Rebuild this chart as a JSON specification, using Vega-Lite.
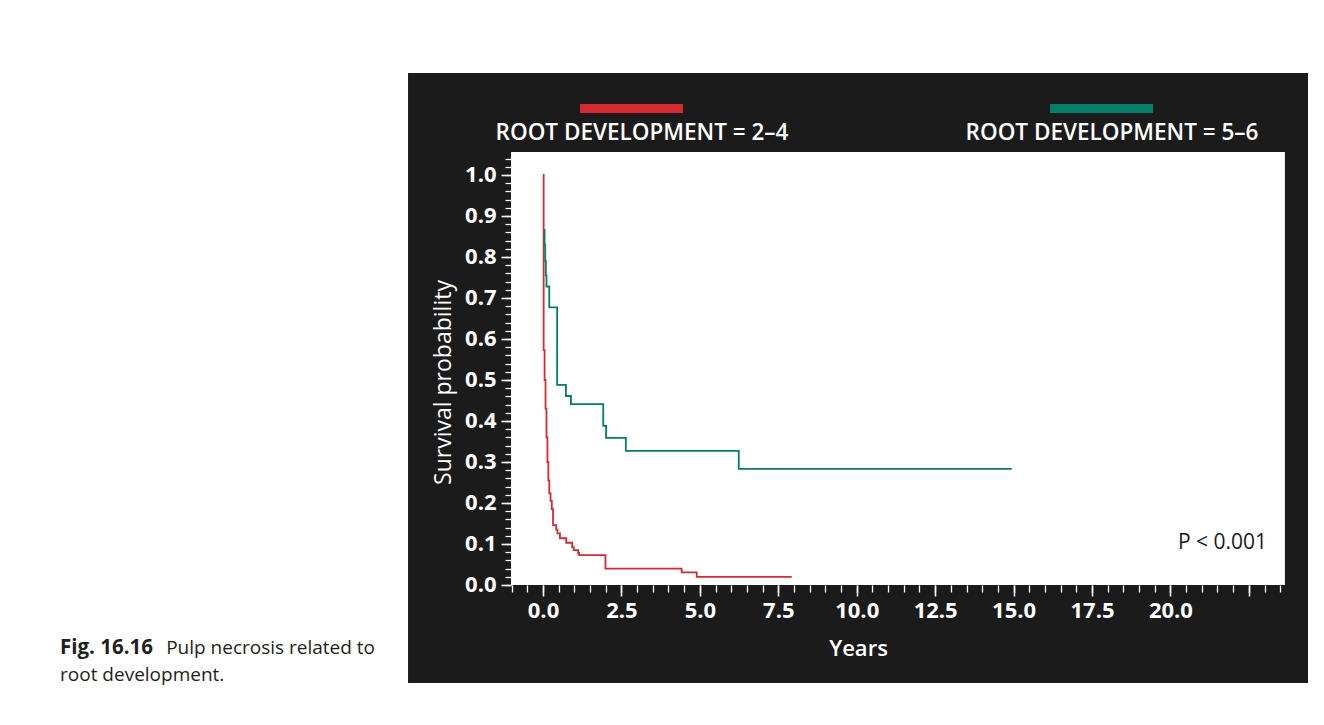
{
  "$schema": "https://vega.github.io/schema/vega-lite/v6.json",
  "width": 1324,
  "height": 725,
  "autosize": {"type": "none"},
  "padding": 0,
  "background": "white",
  "config": {"view": {"stroke": null}},
  "datasets": {
    "km": [
      {"group": "ROOT DEVELOPMENT = 2–4", "years": 0, "survival": 1.0},
      {"group": "ROOT DEVELOPMENT = 2–4", "years": 0.02, "survival": 0.573},
      {"group": "ROOT DEVELOPMENT = 2–4", "years": 0.05, "survival": 0.5},
      {"group": "ROOT DEVELOPMENT = 2–4", "years": 0.08, "survival": 0.43},
      {"group": "ROOT DEVELOPMENT = 2–4", "years": 0.11, "survival": 0.36},
      {"group": "ROOT DEVELOPMENT = 2–4", "years": 0.14, "survival": 0.3},
      {"group": "ROOT DEVELOPMENT = 2–4", "years": 0.17, "survival": 0.255},
      {"group": "ROOT DEVELOPMENT = 2–4", "years": 0.2, "survival": 0.224},
      {"group": "ROOT DEVELOPMENT = 2–4", "years": 0.24, "survival": 0.205},
      {"group": "ROOT DEVELOPMENT = 2–4", "years": 0.28, "survival": 0.185},
      {"group": "ROOT DEVELOPMENT = 2–4", "years": 0.32, "survival": 0.146},
      {"group": "ROOT DEVELOPMENT = 2–4", "years": 0.42, "survival": 0.135},
      {"group": "ROOT DEVELOPMENT = 2–4", "years": 0.46, "survival": 0.126},
      {"group": "ROOT DEVELOPMENT = 2–4", "years": 0.54, "survival": 0.114},
      {"group": "ROOT DEVELOPMENT = 2–4", "years": 0.74, "survival": 0.103},
      {"group": "ROOT DEVELOPMENT = 2–4", "years": 0.93, "survival": 0.092},
      {"group": "ROOT DEVELOPMENT = 2–4", "years": 0.98, "survival": 0.085},
      {"group": "ROOT DEVELOPMENT = 2–4", "years": 1.12, "survival": 0.078},
      {"group": "ROOT DEVELOPMENT = 2–4", "years": 1.15, "survival": 0.073},
      {"group": "ROOT DEVELOPMENT = 2–4", "years": 1.99, "survival": 0.04},
      {"group": "ROOT DEVELOPMENT = 2–4", "years": 4.42, "survival": 0.031},
      {"group": "ROOT DEVELOPMENT = 2–4", "years": 4.9, "survival": 0.02},
      {"group": "ROOT DEVELOPMENT = 2–4", "years": 7.93, "survival": 0.02},
      {"group": "ROOT DEVELOPMENT = 5–6", "years": 0.03, "survival": 0.866},
      {"group": "ROOT DEVELOPMENT = 5–6", "years": 0.05, "survival": 0.83},
      {"group": "ROOT DEVELOPMENT = 5–6", "years": 0.07, "survival": 0.79},
      {"group": "ROOT DEVELOPMENT = 5–6", "years": 0.09, "survival": 0.755},
      {"group": "ROOT DEVELOPMENT = 5–6", "years": 0.11, "survival": 0.728},
      {"group": "ROOT DEVELOPMENT = 5–6", "years": 0.2, "survival": 0.677},
      {"group": "ROOT DEVELOPMENT = 5–6", "years": 0.45, "survival": 0.488},
      {"group": "ROOT DEVELOPMENT = 5–6", "years": 0.73, "survival": 0.461},
      {"group": "ROOT DEVELOPMENT = 5–6", "years": 0.89, "survival": 0.441},
      {"group": "ROOT DEVELOPMENT = 5–6", "years": 1.92, "survival": 0.388},
      {"group": "ROOT DEVELOPMENT = 5–6", "years": 2.01, "survival": 0.359},
      {"group": "ROOT DEVELOPMENT = 5–6", "years": 2.64, "survival": 0.327},
      {"group": "ROOT DEVELOPMENT = 5–6", "years": 6.24, "survival": 0.283},
      {"group": "ROOT DEVELOPMENT = 5–6", "years": 14.94, "survival": 0.283}
    ]
  },
  "layer": [
    {
      "data": {"values": [{}]},
      "mark": {"type": "rect", "color": "#1b1b1b"},
      "encoding": {
        "x": {"datum": -4.303, "type": "quantitative", "scale": {"domain": [-17.31, 24.896], "nice": false, "zero": false}, "axis": null},
        "x2": {"datum": 24.386},
        "y": {"datum": 1.2488, "type": "quantitative", "scale": {"domain": [-0.3415, 1.4268], "nice": false, "zero": false}, "axis": null},
        "y2": {"datum": -0.239}
      }
    },
    {
      "data": {"values": [{}]},
      "mark": {"type": "rect", "color": "white"},
      "encoding": {
        "x": {"datum": -1.02, "type": "quantitative", "scale": {"domain": [-17.31, 24.896], "nice": false, "zero": false},
          "axis": {"orient": "bottom", "offset": -140, "values": [-1,-0.5,0,0.5,1,1.5,2,2.5,3,3.5,4,4.5,5,5.5,6,6.5,7,7.5,8,8.5,9,9.5,10,10.5,11,11.5,12,12.5,13,13.5,14,14.5,15,15.5,16,16.5,17,17.5,18,18.5,19,19.5,20,20.5,21,21.5,22,22.5,23,23.5],
            "labels": false, "tickSize": 7, "tickColor": "white", "tickWidth": 1.3, "domain": false, "grid": false, "title": null, "zindex": 1}},
        "x2": {"datum": 23.65},
        "y": {"datum": 0, "type": "quantitative", "scale": {"domain": [-0.3415, 1.4268], "nice": false, "zero": false},
          "axis": {"orient": "left", "offset": -511, "values": [0,0.02,0.04,0.06,0.08,0.1,0.12,0.14,0.16,0.18,0.2,0.22,0.24,0.26,0.28,0.3,0.32,0.34,0.36,0.38,0.4,0.42,0.44,0.46,0.48,0.5,0.52,0.54,0.56,0.58,0.6,0.62,0.64,0.66,0.68,0.7,0.72,0.74,0.76,0.78,0.8,0.82,0.84,0.86,0.88,0.9,0.92,0.94,0.96,0.98,1.0,1.02,1.04],
            "labels": false, "tickSize": 6, "tickColor": "white", "tickWidth": 1.3, "domain": false, "grid": false, "title": null, "zindex": 1}},
        "y2": {"datum": 1.056}
      }
    },
    {
      "data": {"name": "km"},
      "mark": {"type": "line", "interpolate": "step-after", "strokeWidth": 1.8},
      "encoding": {
        "x": {"field": "years", "type": "quantitative", "scale": {"domain": [-17.31, 24.896], "nice": false, "zero": false},
          "axis": {"orient": "bottom", "offset": -140, "values": [0,2.5,5,7.5,10,12.5,15,17.5,20,22.5],
            "labelExpr": "datum.value > 20 ? '' : format(datum.value, '.1f')",
            "tickSize": 11, "tickColor": "white", "tickWidth": 1.6, "domain": false, "grid": false,
            "labelFont": "Open Sans", "labelFontWeight": "bold", "labelFontSize": 22, "labelColor": "white", "labelPadding": 4,
            "labelOverlap": false, "labelFlush": false, "labelBound": false,
            "title": "Years", "titleColor": "white", "titleFont": "Open Sans", "titleFontWeight": 600, "titleFontSize": 22,
            "titlePadding": 17, "titleX": 858, "zindex": 1}},
        "y": {"field": "survival", "type": "quantitative", "scale": {"domain": [-0.3415, 1.4268], "nice": false, "zero": false},
          "axis": {"orient": "left", "offset": -511, "values": [0,0.1,0.2,0.3,0.4,0.5,0.6,0.7,0.8,0.9,1.0], "format": ".1f",
            "tickSize": 10, "tickColor": "white", "tickWidth": 1.6, "domain": false, "grid": false,
            "labelFont": "Open Sans", "labelFontWeight": "bold", "labelFontSize": 22, "labelColor": "white", "labelPadding": 5,
            "labelOverlap": false, "labelFlush": false, "labelBound": false,
            "title": "Survival probability", "titleColor": "white", "titleFont": "Open Sans", "titleFontWeight": 500, "titleFontSize": 23,
            "titlePadding": 9, "titleY": 382, "zindex": 1}},
        "color": {"field": "group", "type": "nominal",
          "scale": {"domain": ["ROOT DEVELOPMENT = 2–4", "ROOT DEVELOPMENT = 5–6"], "range": ["#d62a30", "#007f6b"]},
          "legend": {"orient": "none", "legendX": 575.5, "legendY": 52.5, "direction": "horizontal", "title": null,
            "symbolType": "M-1,0H1", "symbolSize": 10609, "symbolStrokeWidth": 9,
            "labelAlign": "center", "labelOffset": -45.5, "labelColor": "white", "labelFont": "Open Sans",
            "labelFontSize": 22.5, "labelFontWeight": 600, "labelLimit": 0, "columnPadding": 177, "zindex": 1,
            "encode": {"labels": {"update": {"dy": {"value": 24.5}}}}}}
      }
    },
    {
      "data": {"values": [{}]},
      "mark": {"type": "text", "text": "P < 0.001", "align": "right", "baseline": "middle", "font": "Open Sans", "fontSize": 21, "color": "#1b1b1b"},
      "encoding": {
        "x": {"datum": 23.08, "type": "quantitative", "scale": {"domain": [-17.31, 24.896], "nice": false, "zero": false}, "axis": null},
        "y": {"datum": 0.1024, "type": "quantitative", "scale": {"domain": [-0.3415, 1.4268], "nice": false, "zero": false}, "axis": null}
      }
    },
    {
      "data": {"values": [{}]},
      "mark": {"type": "text", "text": "Fig. 16.16", "align": "left", "baseline": "middle", "font": "Open Sans", "fontWeight": "bold", "fontSize": 20.5, "color": "#231f20"},
      "encoding": {
        "x": {"datum": -15.397, "type": "quantitative", "scale": {"domain": [-17.31, 24.896], "nice": false, "zero": false}, "axis": null},
        "y": {"datum": -0.1537, "type": "quantitative", "scale": {"domain": [-0.3415, 1.4268], "nice": false, "zero": false}, "axis": null}
      }
    },
    {
      "data": {"values": [{}]},
      "mark": {"type": "text", "text": "Pulp necrosis related to", "align": "right", "baseline": "middle", "font": "Open Sans", "fontSize": 19, "color": "#231f20"},
      "encoding": {
        "x": {"datum": -5.355, "type": "quantitative", "scale": {"domain": [-17.31, 24.896], "nice": false, "zero": false}, "axis": null},
        "y": {"datum": -0.1537, "type": "quantitative", "scale": {"domain": [-0.3415, 1.4268], "nice": false, "zero": false}, "axis": null}
      }
    },
    {
      "data": {"values": [{}]},
      "mark": {"type": "text", "text": "root development.", "align": "left", "baseline": "middle", "font": "Open Sans", "fontSize": 19, "color": "#231f20"},
      "encoding": {
        "x": {"datum": -15.397, "type": "quantitative", "scale": {"domain": [-17.31, 24.896], "nice": false, "zero": false}, "axis": null},
        "y": {"datum": -0.2195, "type": "quantitative", "scale": {"domain": [-0.3415, 1.4268], "nice": false, "zero": false}, "axis": null}
      }
    }
  ],
  "resolve": {"axis": {"x": "independent", "y": "independent"}}
}
